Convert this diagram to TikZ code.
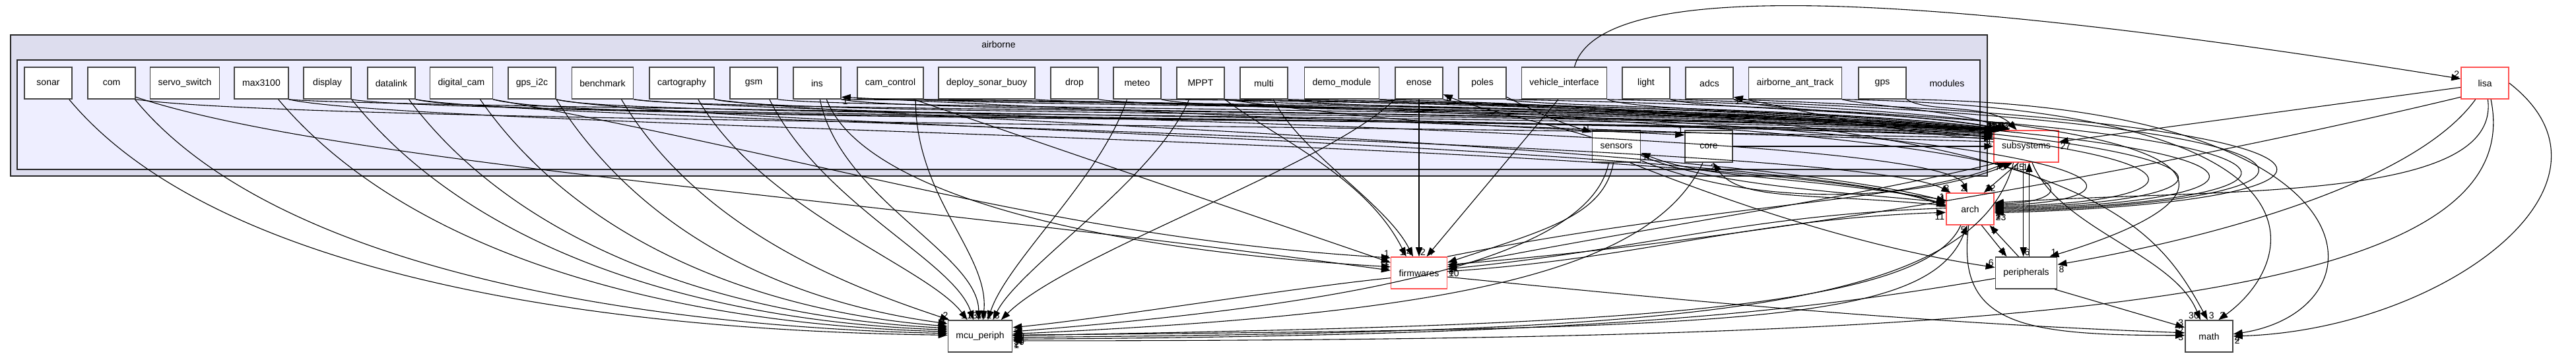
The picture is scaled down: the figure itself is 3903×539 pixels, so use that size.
\documentclass[tikz,border=0pt]{standalone}
\usepackage{fontspec}
\setmainfont{Liberation Sans}
\usetikzlibrary{arrows.meta}
\definecolor{clouter}{HTML}{DDDDEE}
\definecolor{clinner}{HTML}{EEEEFF}
\definecolor{redb}{HTML}{FF5050}
\definecolor{grayb}{HTML}{444444}
\begin{document}
\begin{tikzpicture}[x=1pt,y=-1pt,
  dirnode/.style={draw=grayb, fill=white, line width=1.6pt, minimum width=72pt, minimum height=48pt, inner xsep=12pt, font=\fontsize{14}{16}\selectfont},
  rednode/.style={dirnode, draw=redb},
  dep/.style={draw=black, line width=1.1pt, -{Triangle[length=14pt,width=10pt]}},
  hl/.style={font=\fontsize{14}{16}\selectfont, inner sep=1.5pt},
  cluster/.style={draw=black!85, line width=1.4pt},
  clabel/.style={font=\fontsize{14}{16}\selectfont}]
\useasboundingbox (0,0) rectangle (3903,539);
\fill[white] (0,0) rectangle (3903,539);
% clusters
\draw[cluster, fill=clouter] (16,53) rectangle (3011,267);
\node[clabel] (airborne) at (1513,67) {airborne};
\draw[cluster, fill=clinner] (26,91) rectangle (3000,257);
\node[clabel] (modules) at (2950,126) {modules};
% module nodes
\node[dirnode] (sonar) at (73,126) {sonar};
\node[dirnode] (com) at (169,126) {com};
\node[dirnode] (servo_switch) at (280,126) {servo\_switch};
\node[dirnode] (max3100) at (396,126) {max3100};
\node[dirnode] (display) at (496,126) {display};
\node[dirnode] (datalink) at (593,126) {datalink};
\node[dirnode] (digital_cam) at (699,126) {digital\_cam};
\node[dirnode] (gps_i2c) at (806,126) {gps\_i2c};
\node[dirnode] (benchmark) at (913,126) {benchmark};
\node[dirnode] (cartography) at (1033,126) {cartography};
\node[dirnode] (gsm) at (1142,126) {gsm};
\node[dirnode] (ins) at (1238,126) {ins};
\node[dirnode] (cam_control) at (1349,126) {cam\_control};
\node[dirnode] (deploy_sonar_buoy) at (1495,126) {deploy\_sonar\_buoy};
\node[dirnode] (drop) at (1628,126) {drop};
\node[dirnode] (meteo) at (1723,126) {meteo};
\node[dirnode] (MPPT) at (1819,126) {MPPT};
\node[dirnode] (multi) at (1915,126) {multi};
\node[dirnode] (demo_module) at (2033,126) {demo\_module};
\node[dirnode] (enose) at (2150,126) {enose};
\node[dirnode] (poles) at (2246,126) {poles};
\node[dirnode] (vehicle_interface) at (2370,126) {vehicle\_interface};
\node[dirnode] (light) at (2494,126) {light};
\node[dirnode] (adcs) at (2590,126) {adcs};
\node[dirnode] (airborne_ant_track) at (2720,126) {airborne\_ant\_track};
\node[dirnode] (gps) at (2852,126) {gps};
% other nodes
\node[dirnode] (sensors) at (2449,222) {sensors};
\node[dirnode] (core) at (2589,222) {core};
\node[rednode] (subsystems) at (3070,222) {subsystems};
\node[rednode] (arch) at (2985,317) {arch};
\node[rednode] (lisa) at (3765,126) {lisa};
\node[dirnode] (peripherals) at (3070,414) {peripherals};
\node[rednode] (firmwares) at (2150,414) {firmwares};
\node[dirnode] (mcu_periph) at (1485,510) {mcu\_periph};
\node[dirnode] (math) at (3347,510) {math};

% modules -> subsystems (band)
\foreach \src/\pa/\pb/\pc/\pd/\tg/\lb in {
 com/250/35/-900/-20/166/1, max3100/120/12/-1000/-35/163/2, display/120/22/-1000/-30/161/1,
 datalink/120/30/-900/-28/159/3, digital_cam/120/35/-900/-25/157/1, gps_i2c/100/28/-800/-30/156/2,
 benchmark/100/18/-800/-35/155/1, cartography/100/24/-800/-30/154/2, gsm/100/14/-700/-35/153/1,
 ins/100/20/-700/-30/152/3, cam_control/100/10/-650/-38/151/4, deploy_sonar_buoy/80/8/-600/-40/150/1,
 drop/80/14/-550/-36/149/1, meteo/80/20/-500/-30/148/1, MPPT/80/12/-450/-36/147/3,
 multi/70/16/-400/-32/146/2, demo_module/60/10/-350/-38/145/1, enose/60/18/-300/-30/144/1,
 poles/50/12/-250/-34/143/1, vehicle_interface/50/20/-200/-28/142/9, light/40/14/-150/-30/141/1,
 adcs/40/18/-120/-26/140/8, airborne_ant_track/40/10/-80/-30/135/3, gps/30/20/-40/-40/120/24}
 \draw[dep] (\src.south east) .. controls +(\pa,\pb) and +(\pc,\pd) .. (subsystems.\tg) node[hl,above left]{\lb};

% modules -> mcu_periph
\foreach \src/\sa/\pa/\pb/\pc/\pd/\tg/\lb in {
 sonar/-38/250/300/-400/-5/178/3, com/-35/230/280/-380/-8/175/3, max3100/-44/220/260/-360/-10/172/5,
 display/south east/200/250/-330/-12/169/1, datalink/-43/180/240/-300/-15/166/1,
 digital_cam/-41/160/230/-260/-20/163/1, gps_i2c/south east/140/220/-220/-30/159/2,
 benchmark/-41/120/200/-150/-50/152/2, cartography/-45/100/170/-60/-80/128/1,
 gsm/-46/80/160/-30/-90/112/1, ins/-80/30/150/0/-100/95/13, cam_control/-33/0/150/10/-100/80/1,
 meteo/-122/-40/120/30/-90/65/30, MPPT/-125/-50/120/40/-80/52/2, enose/south west/-100/100/100/-100/38/3}
 \draw[dep] (\src.\sa) .. controls +(\pa,\pb) and +(\pc,\pd) .. (mcu_periph.\tg) node[hl,above left]{\lb};

% right side into mcu_periph
\foreach \src/\sa/\pa/\pb/\pc/\pd/\tg/\lb in {
 firmwares/-170/-150/15/150/-15/15/2, sensors/-115/-30/150/500/-40/8/10, core/-110/-80/170/650/-30/4/4,
 arch/-120/-60/140/800/-15/1/42, subsystems/-128/-60/230/1000/-8/-2/30, peripherals/-170/-300/50/900/-5/-5/2}
 \draw[dep] (\src.\sa) .. controls +(\pa,\pb) and +(\pc,\pd) .. (mcu_periph.\tg) node[hl,below right]{\lb};

% modules -> firmwares
\draw[dep] (com.-30) .. controls +(300,100) and +(-800,-110) .. (firmwares.175) node[hl,above left]{1};
\draw[dep] (ins.-60) .. controls +(50,130) and +(-500,-30) .. (firmwares.168) node[hl,above left]{1};
\draw[dep] (cam_control.-35) -- (firmwares.160) node[hl,above left]{1};
\draw[dep] (digital_cam.south east) .. controls +(500,90) and +(-500,-30) .. (firmwares.152) node[hl,above left]{1};
\draw[dep] (MPPT.south east) .. controls +(80,60) and +(-60,-120) .. (firmwares.128) node[hl,above left]{1};
\draw[dep] (multi.-60) .. controls +(40,80) and +(-40,-80) .. (firmwares.110) node[hl,above left]{4};
\draw[dep] (enose.south) -- (firmwares.north) node[hl,above right]{2};
\draw[dep] (vehicle_interface.-110) -- (firmwares.65) node[hl,above right]{4};

% modules -> arch (left / top)
\draw[dep] (max3100.south east) .. controls +(200,45) and +(-250,-100) .. (arch.175) node[hl,above left]{1};
\draw[dep] (gps_i2c.south east) .. controls +(200,40) and +(-300,-95) .. (arch.170) node[hl,above left]{4};
\draw[dep] (cartography.south east) .. controls +(200,30) and +(-350,-90) .. (arch.162) node[hl,above left]{1};
\draw[dep] (datalink.south east) .. controls +(200,35) and +(-150,-80) .. (arch.140) node[hl,above left]{3};
\draw[dep] (benchmark.south east) .. controls +(200,25) and +(-40,-100) .. (arch.100) node[hl,above left]{2};

% modules -> arch (loops on the right)
\foreach \src/\q/\ya/\tg/\lb in {
 ins/3211/165/12/2, cam_control/3303/170/9/4, meteo/3436/168/6/1, MPPT/3498/172/3/3,
 multi/3560/175/0/2, poles/3603/178/-3/1, light/3616/182/-6/1, adcs/3643/186/-9/23}
 \draw[dep] (\src.south east) .. controls (\q,\ya) and (\q,305) .. (arch.\tg) node[hl,below right]{\lb};

% modules -> math / peripherals via loops
\draw[dep] (airborne_ant_track.south east) .. controls (3560,165) and (3480,400) .. (math.60) node[hl,above right]{3};
\draw[dep] (gps.south east) .. controls (3620,160) and (3620,470) .. (math.5) node[hl,below right]{4};
\draw[dep] (demo_module.south east) .. controls (3150,175) and (3260,330) .. (math.95) node[hl,above right]{3};
\draw[dep] (vehicle_interface.south east) .. controls (3480,175) and (3400,300) .. (peripherals.35) node[hl,above right]{1};

% lisa
\draw[dep] (vehicle_interface.58) .. controls (2420,-20) and (2800,-30) .. (lisa.170) node[hl,above left]{2};
\draw[dep] (lisa.-170) -- (subsystems.8) node[hl,below right]{27};
\draw[dep] (lisa.-80) .. controls (3790,310) and (3350,285) .. (arch.14) node[hl,below right]{2};
\draw[dep] (lisa.east) .. controls (4000,280) and (3700,500) .. (math.0) node[hl,below right]{2};
\draw[dep] (lisa.-120) .. controls (3650,290) and (3300,370) .. (peripherals.15) node[hl,below right]{8};
\draw[dep] (lisa.-150) .. controls (3300,250) and (2700,360) .. (firmwares.16) node[hl,below right]{1};
\draw[dep] (lisa.-70) .. controls (3840,470) and (3033,517) .. (mcu_periph.-8) node[hl,below right]{1};

% lower nodes
\draw[dep] (core.east) -- (subsystems.west) node[hl,above left]{1};
\draw[dep] (subsystems.-115) -- (arch.50) node[hl,above right]{12};
\draw[dep] (arch.-55) -- (peripherals.140) node[hl,above left]{7};
\draw[dep] (peripherals.115) -- (arch.-40) node[hl,below right]{1};
\draw[dep] (subsystems.-100) -- (peripherals.100) node[hl,above right]{6};
\draw[dep] (peripherals.80) -- (subsystems.-80) node[hl,below left]{1};
\draw[dep] (subsystems.-70) .. controls +(40,100) and +(-40,-100) .. (math.118) node[hl,above left]{30};
\draw[dep] (peripherals.-30) -- (math.160) node[hl,above left]{3};
\draw[dep] (arch.-95) .. controls +(-20,150) and +(-250,0) .. (math.178) node[hl,above left]{2};
\draw[dep] (firmwares.-8) .. controls +(400,40) and +(-400,-15) .. (math.172) node[hl,below left]{3};
\draw[dep] (arch.178) .. controls +(-300,10) and +(300,-30) .. (firmwares.8) node[hl,below right]{10};
\draw[dep] (firmwares.3) .. controls +(300,-20) and +(-300,10) .. (arch.-172) node[hl,below left]{11};
\draw[dep] (subsystems.-150) .. controls +(-250,60) and +(300,-60) .. (firmwares.12) node[hl,below right]{8};
\draw[dep] (sensors.-100) .. controls +(-15,80) and +(150,-50) .. (firmwares.20) node[hl,below right]{1};
\draw[dep] (firmwares.30) .. controls +(400,-80) and +(-150,60) .. (subsystems.-140) node[hl,below left]{75};
\draw[dep] (sensors.-30) .. controls +(200,80) and +(-120,50) .. (subsystems.-130) node[hl,below right]{45};
\draw[dep] (mcu_periph.2) .. controls +(1100,-10) and +(-60,150) .. (arch.-100) node[hl,below left]{5};
\draw[dep] (sensors.-20) .. controls +(100,45) and +(-150,-15) .. (arch.165) node[hl,above left]{4};
\draw[dep] (arch.172) .. controls +(-200,-20) and +(40,60) .. (core.-75) node[hl,below]{2};
\draw[dep] (arch.160) .. controls +(-250,-40) and +(100,40) .. (sensors.-15) node[hl,below right]{1};
\draw[dep] (sensors.-50) .. controls +(150,60) and +(-200,-30) .. (peripherals.170) node[hl,above left]{6};
\draw[dep] (poles.-30) .. controls +(50,25) and +(-50,-15) .. (sensors.150) node[hl,above left]{1};
\draw[dep] (sensors.160) .. controls +(-60,-20) and +(60,25) .. (enose.-25) node[hl,below right]{1};
\draw[dep] (subsystems.172) .. controls +(-700,-20) and +(600,30) .. (ins.-30) node[hl,below right]{1};
\draw[dep] (subsystems.168) .. controls +(-150,-10) and +(150,30) .. (adcs.-30) node[hl,below right]{1};
\draw[dep] (MPPT.south east) .. controls +(300,40) and +(-300,-15) .. (core.155) node[hl,above left]{1};
\end{tikzpicture}
\end{document}
